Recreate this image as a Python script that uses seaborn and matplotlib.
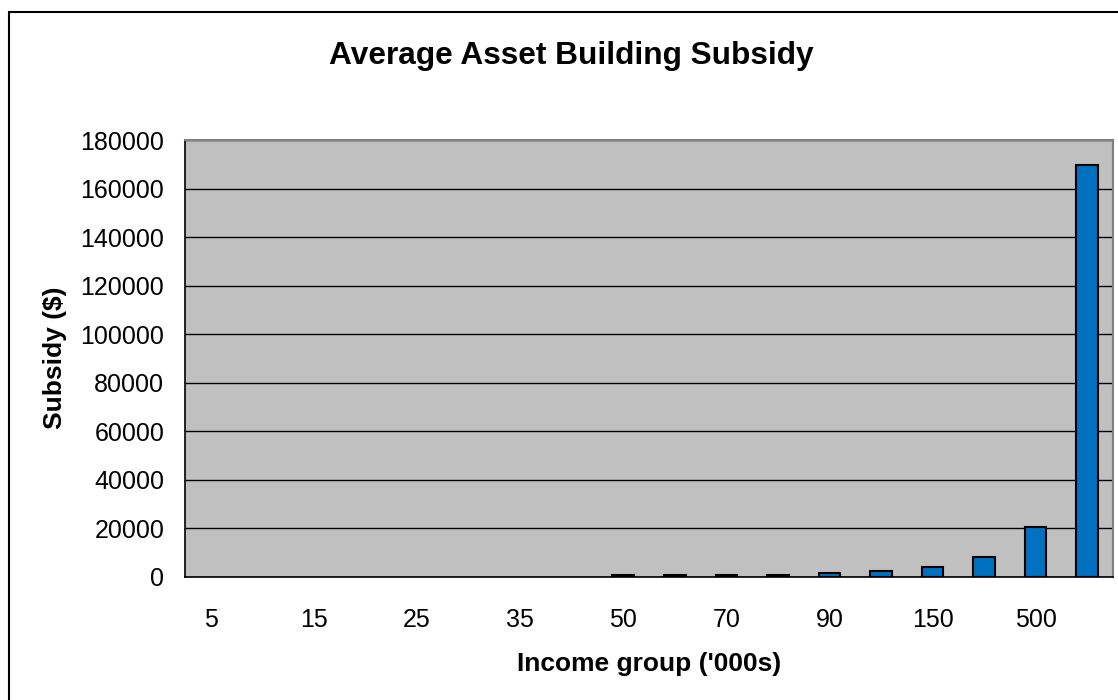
import numpy as np
import pandas as pd
import matplotlib
matplotlib.use('Agg')
import matplotlib.pyplot as plt
import seaborn as sns
from matplotlib.patches import Rectangle

# Data
groups = ['5', '10', '15', '20', '25', '30', '35', '40', '50', '60',
          '70', '80', '90', '100', '150', '200', '500', '1000']
subsidy = [0, 0, 0, 0, 0, 0, 0, 0, 800, 850,
           800, 750, 1600, 2500, 4200, 8200, 20600, 169500]
shown_labels = ['5', '15', '25', '35', '50', '70', '90', '150', '500']

df = pd.DataFrame({'group': groups, 'subsidy': subsidy})

sns.set_style('white')
plt.rcParams['font.family'] = ['Liberation Sans', 'DejaVu Sans']
plt.rcParams['text.color'] = 'black'
plt.rcParams['xtick.color'] = 'black'
plt.rcParams['ytick.color'] = 'black'

fig = plt.figure(figsize=(11.18, 7), dpi=100)
ax = fig.add_axes([185 / 1118, 123 / 700, 928 / 1118, 437 / 700])

sns.barplot(data=df, x='group', y='subsidy', order=groups, color='#0070C0',
            saturation=1, width=0.42, edgecolor='black', linewidth=1.5, ax=ax)

# empty groups show no bar at all
for p in ax.patches:
    if p.get_height() == 0:
        p.set_visible(False)

ax.set_facecolor('#C0C0C0')
ax.set_ylim(0, 180000)
ax.set_xlim(-0.5, len(groups) - 0.5)
ax.set_yticks(np.arange(0, 180001, 20000))
ax.yaxis.grid(True, color='black', linewidth=1)
ax.set_axisbelow(True)

# labels on every other category, tick marks between categories
ax.set_xticks([groups.index(g) for g in shown_labels])
ax.set_xticklabels(shown_labels)
ax.set_xticks(np.arange(-0.5, len(groups), 1), minor=True)
ax.tick_params(axis='x', which='major', length=0, pad=22, labelsize=18)
ax.tick_params(axis='x', which='minor', length=7, width=1, color='black', direction='out')
ax.tick_params(axis='y', length=7, width=1, color='black', direction='out', labelsize=18, pad=8)

for side in ['left', 'bottom']:
    ax.spines[side].set_color('black')
    ax.spines[side].set_linewidth(1.2)
for side in ['top', 'right']:
    ax.spines[side].set_color('#808080')
    ax.spines[side].set_linewidth(1.5)

ax.set_xlabel('')
ax.set_ylabel('')
fig.text(649 / 1118, 1 - 664 / 700, "Income group ('000s)",
         ha='center', va='center', fontsize=19, fontweight='bold')
fig.text(55 / 1118, 1 - 358 / 700, 'Subsidy ($)', rotation=90,
         ha='center', va='center', fontsize=19, fontweight='bold')
fig.text(571 / 1118, 1 - 56 / 700, 'Average Asset Building Subsidy',
         ha='center', va='center', fontsize=22.8, fontweight='bold')

# outer chart frame (runs off the right and bottom edges)
fig.patches.append(Rectangle((9 / 1118, -0.1), 1.2, 1 - 12 / 700 + 0.1,
                             transform=fig.transFigure, fill=False,
                             edgecolor='black', linewidth=1.5))

fig.savefig('out.png', dpi=100)
